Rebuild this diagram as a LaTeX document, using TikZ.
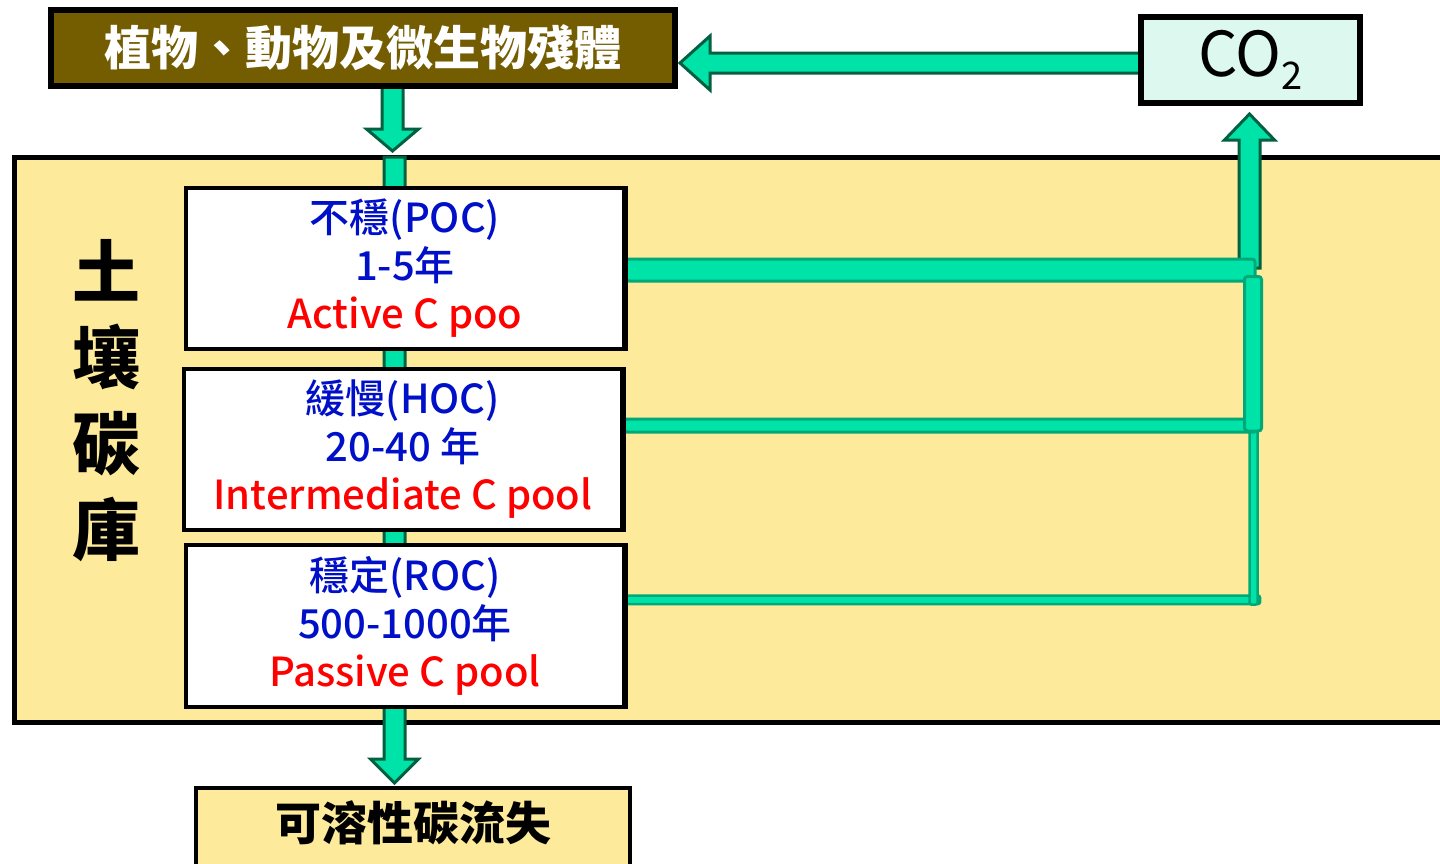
\documentclass[tikz,border=0pt]{standalone}
\usepackage{fontspec}
\setmainfont{Noto Sans CJK TC}
\newfontfamily\poolfont{Noto Sans CJK TC}[UprightFont=* Medium]
\usetikzlibrary{calc}
\definecolor{brownbox}{HTML}{745C00}
\definecolor{mint}{HTML}{00E3A8}
\definecolor{darkgreen}{HTML}{00603F}
\definecolor{midgreen}{HTML}{00A878}
\definecolor{soil}{HTML}{FDEA9A}
\definecolor{cofill}{HTML}{DDF8EE}
\definecolor{poolblue}{HTML}{0010C8}
\definecolor{poolred}{HTML}{FF0000}
\begin{document}
\begin{tikzpicture}[x=1pt,y=-1pt,
  box/.style={draw=black,line width=4pt,inner sep=0pt,align=center},
  pool/.style={box,fill=white,minimum width=438pt,minimum height=161pt,
    font=\poolfont\fontsize{40}{48}\selectfont},
  bigarrow/.style={fill=mint,draw=darkgreen,line width=3pt,line join=miter},
  link/.style={fill=mint,draw=midgreen,line width=3pt,rounded corners=3pt},
  thinlink/.style={fill=mint,draw=midgreen,line width=2.5pt,rounded corners=2pt},
]
\clip (0,0) rectangle (1440,863);
\fill[white] (0,0) rectangle (1440,863);

% soil carbon pool area
\node[box,fill=soil,line width=5pt,minimum width=1500pt,minimum height=565pt,anchor=north west] (soil) at (12,155) {};
\node[font=\fontsize{68}{86}\selectfont\bfseries,align=center] (soillabel) at (106,401) {土\\壤\\碳\\庫};

% nodes outside
\node[box,fill=brownbox,minimum width=622pt,minimum height=74pt,
  font=\fontsize{47}{47}\selectfont\bfseries,text=white] (plant) at (363,48) {植物、動物及微生物殘體};
\node[box,fill=cofill,minimum width=217pt,minimum height=84pt,
  font=\fontsize{62}{62}\selectfont] (co2) at (1250.5,60) {CO\raisebox{-13pt}{\fontsize{38}{38}\selectfont 2}};
\node[box,fill=soil,minimum width=434pt,minimum height=112pt,anchor=north,
  label={[font=\fontsize{46}{46}\selectfont\bfseries,yshift=21pt]center:可溶性碳流失}] (loss) at (413,786) {};

% up arrow to CO2 (drawn before links)
\coordinate (upbase) at (1249.5,268);
\coordinate (uptip) at ($(co2.south)+(-1,10)$);
\draw[bigarrow] ($(upbase)+(-10.5,0)$) -- ($(uptip)+(-10.5,26)$) -- ($(uptip)+(-25,26)$)
  -- (uptip) -- ($(uptip)+(25,26)$) -- ($(uptip)+(10.5,26)$) -- ($(upbase)+(10.5,0)$) -- cycle;

% vertical flow through the pools down to loss
\coordinate (flowtop) at (394.5,157);
\coordinate (flowtip) at ($(loss.north)+(-18.5,-3)$);
\draw[bigarrow] ($(flowtop)+(-10.5,0)$) -- ($(flowtip)+(-10.5,-24)$) -- ($(flowtip)+(-24,-24)$)
  -- (flowtip) -- ($(flowtip)+(24,-24)$) -- ($(flowtip)+(10.5,-24)$) -- ($(flowtop)+(10.5,0)$) -- cycle;

% pools
\node[pool] (pool1) at (405,268.5) {\textcolor{poolblue}{不穩(POC)}\\\textcolor{poolblue}{1-5年}\\\textcolor{poolred}{Active C poo}};
\node[pool] (pool2) at (403,449.5) {\textcolor{poolblue}{緩慢(HOC)}\\\textcolor{poolblue}{20-40 年}\\\textcolor{poolred}{Intermediate C pool}};
\node[pool,minimum height=162pt] (pool3) at (405,626) {\textcolor{poolblue}{穩定(ROC)}\\\textcolor{poolblue}{500-1000年}\\\textcolor{poolred}{Passive C pool}};

% links from pools to CO2 riser
\draw[thinlink] ($(pool3.east)+(0,-30.5)$) rectangle ($(pool3.east)+(634,-22)$);
\draw[thinlink] (1249.5,431) rectangle (1257.5,604.5);
\draw[link] ($(pool2.east)+(0,-30.5)$) rectangle ($(pool2.east)+(633,-17.5)$);
\draw[link] ($(pool1.east)+(0,-9.5)$) rectangle ($(pool1.east)+(629,12.5)$);
\draw[link] (1244.5,276.5) rectangle (1261.5,431);
% redraw pool borders over link starts
\draw[black,line width=4pt] (pool1.north east) -- (pool1.south east);
\draw[black,line width=4pt] (pool2.north east) -- (pool2.south east);
\draw[black,line width=4pt] (pool3.north east) -- (pool3.south east);

% arrow from plant residues into soil
\coordinate (downtip) at (392.5,151);
\draw[bigarrow] ($(plant.south -| downtip)+(-10.5,0)$) -- ($(downtip)+(-10.5,-22)$) -- ($(downtip)+(-26,-22)$)
  -- (downtip) -- ($(downtip)+(26,-22)$) -- ($(downtip)+(10.5,-22)$) -- ($(plant.south -| downtip)+(10.5,0)$) -- cycle;

% arrow from CO2 to plant residues
\coordinate (lefttip) at ($(plant.east)+(4,15)$);
\draw[bigarrow] ($(co2.west |- lefttip)+(0,-10)$) -- ($(lefttip)+(30,-10)$) -- ($(lefttip)+(30,-27)$)
  -- (lefttip) -- ($(lefttip)+(30,27)$) -- ($(lefttip)+(30,10)$) -- ($(co2.west |- lefttip)+(0,10)$);
% redraw box borders
\draw[black,line width=4pt] (plant.north west) rectangle (plant.south east);
\draw[black,line width=4pt] (co2.north west) rectangle (co2.south east);
\end{tikzpicture}
\end{document}
